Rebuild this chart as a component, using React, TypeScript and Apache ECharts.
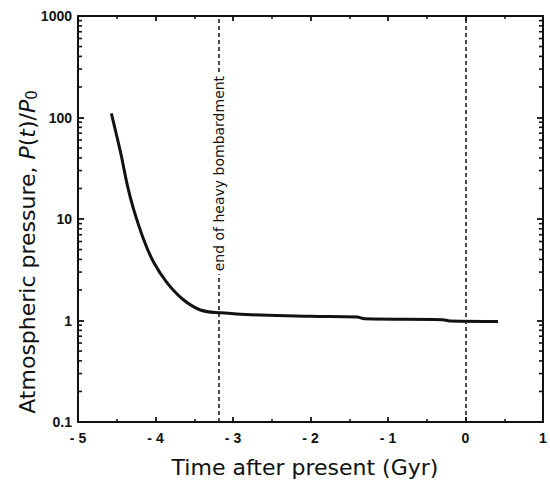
import React, { useEffect, useRef } from "react";
import * as echarts from "echarts";

const timeGyr = [-4.57, -4.45, -4.36, -4.28, -4.15, -4.02, -3.85, -3.64, -3.42, -3.16, -2.64, -2.0, -1.4, -1.3, -0.3, -0.2, 0.42];
const pressure = [110, 45, 21, 12.3, 6.2, 3.7, 2.35, 1.6, 1.27, 1.19, 1.13, 1.1, 1.08, 1.04, 1.02, 0.99, 0.98];

const markerTimes = [-3.18, 0];
const markerLabel = "end of heavy bombardment";
const markerLabelAt = [-3.18, 28];

const decades = [0.1, 1, 10, 100];
const minorMultipliers = [2, 3, 4, 5, 6, 7, 8, 9];

const X_MIN = -5;
const X_MAX = 1;
const Y_MIN = 0.1;
const Y_MAX = 1000;

export default function App() {
  const ref = useRef<HTMLDivElement>(null);
  useEffect(() => {
    if (!ref.current) return;
    const chart = echarts.init(ref.current, null, { renderer: "svg" });
    const minorTicks: number[] = [];
    decades.forEach((d) => minorMultipliers.forEach((m) => minorTicks.push(+(d * m).toPrecision(3))));
    const ink = "#111";
    const tickFont = { fontFamily: "Liberation Sans, Arial, sans-serif", fontSize: 14, fontWeight: "bold" as const, color: ink };
    const tickSide = (atX: number, dir: number) => ({
      type: "custom",
      xAxisIndex: 0, yAxisIndex: 0,
      silent: true, clip: false,
      data: minorTicks.map((v) => [atX, v]),
      renderItem: (_params: any, api: any) => {
        const p = api.coord([api.value(0), api.value(1)]);
        return {
          type: "polyline",
          shape: { points: [[p[0], p[1]], [p[0] + dir * 4, p[1]]] },
          style: { stroke: ink, lineWidth: 1.6, fill: "none" },
        };
      },
      z: 4,
    });
    chart.setOption({
      animation: false,
      backgroundColor: "#fff",
      grid: { left: 78, right: 7, top: 16, bottom: 63, containLabel: false },
      xAxis: [
        {
          type: "value", min: X_MIN, max: X_MAX, interval: 1, position: "bottom",
          axisLine: { show: true, onZero: false, lineStyle: { color: ink, width: 2 } },
          axisTick: { show: true, inside: true, length: 5, lineStyle: { color: ink, width: 1.8 } },
          minorTick: { show: true, splitNumber: 2, length: 3, lineStyle: { color: ink, width: 1.5 } },
          splitLine: { show: false },
          axisLabel: { ...tickFont, margin: 9, formatter: (v: number) => (v < 0 ? "- " + Math.abs(v) : String(v)) },
        },
        {
          type: "value", min: X_MIN, max: X_MAX, interval: 1, position: "top",
          axisLine: { show: true, onZero: false, lineStyle: { color: ink, width: 2 } },
          axisTick: { show: true, inside: true, length: 5, lineStyle: { color: ink, width: 1.8 } },
          minorTick: { show: true, splitNumber: 2, length: 3, lineStyle: { color: ink, width: 1.5 } },
          splitLine: { show: false },
          axisLabel: { show: false },
        },
      ],
      yAxis: [
        {
          type: "log", logBase: 10, min: Y_MIN, max: Y_MAX, position: "left",
          axisLine: { show: true, onZero: false, lineStyle: { color: ink, width: 2 } },
          axisTick: { show: true, inside: true, length: 6, lineStyle: { color: ink, width: 1.8 } },
          splitLine: { show: false },
          axisLabel: { ...tickFont, margin: 6, formatter: (v: number) => (v < 1 ? v.toFixed(1) : String(Math.round(v))) },
        },
        {
          type: "log", logBase: 10, min: Y_MIN, max: Y_MAX, position: "right",
          axisLine: { show: true, onZero: false, lineStyle: { color: ink, width: 2 } },
          axisTick: { show: true, inside: true, length: 6, lineStyle: { color: ink, width: 1.8 } },
          splitLine: { show: false },
          axisLabel: { show: false },
        },
      ],
      series: [
        {
          type: "line",
          xAxisIndex: 0, yAxisIndex: 0,
          data: timeGyr.map((t, i) => [t, pressure[i]]),
          showSymbol: false, symbol: "none",
          smooth: 0.4,
          lineStyle: { color: ink, width: 3 },
          z: 3,
          markLine: {
            silent: true, symbol: ["none", "none"],
            label: { show: false },
            lineStyle: { color: ink, width: 1.5, type: [4, 3] },
            data: markerTimes.map((t) => [{ coord: [t, Y_MIN] }, { coord: [t, Y_MAX] }]),
          },
        },
        tickSide(X_MIN, 1),
        tickSide(X_MAX, -1),
        {
          type: "custom",
          xAxisIndex: 0, yAxisIndex: 0,
          silent: true, clip: false,
          data: [markerLabelAt],
          renderItem: (_params: any, api: any) => {
            const p = api.coord([api.value(0), api.value(1)]);
            return {
              type: "text",
              x: p[0], y: p[1], rotation: Math.PI / 2,
              style: {
                text: markerLabel,
                align: "center", verticalAlign: "middle",
                fontFamily: "DejaVu Sans, sans-serif", fontSize: 14,
                fill: ink, backgroundColor: "#fff", padding: [1, 3],
              },
            };
          },
          z: 10,
        },
      ],
      graphic: [
        {
          type: "text", x: 305, y: 467,
          style: {
            text: "Time after present (Gyr)",
            align: "center", verticalAlign: "middle",
            fontFamily: "DejaVu Sans, sans-serif", fontSize: 22, fill: ink,
          },
        },
        {
          type: "text", x: 27, y: 252, rotation: Math.PI / 2,
          style: {
            text: "{a|Atmospheric pressure, }{i|P}{a|(}{i|t}{a|)/}{i|P}{s|0}",
            align: "center", verticalAlign: "middle",
            rich: {
              a: { fontFamily: "DejaVu Sans, sans-serif", fontSize: 22, fill: ink, color: ink },
              i: { fontFamily: "DejaVu Sans, sans-serif", fontSize: 22, fontStyle: "italic", fill: ink, color: ink },
              s: { fontFamily: "DejaVu Sans, sans-serif", fontSize: 15, fill: ink, color: ink, padding: [10, 0, 0, 0] },
            },
          },
        },
      ],
    });
    return () => chart.dispose();
  }, []);
  return (
    <div
      ref={ref}
      style={{ position: "fixed", left: 0, top: 0, width: 550, height: 485, background: "#fff" }}
    />
  );
}
